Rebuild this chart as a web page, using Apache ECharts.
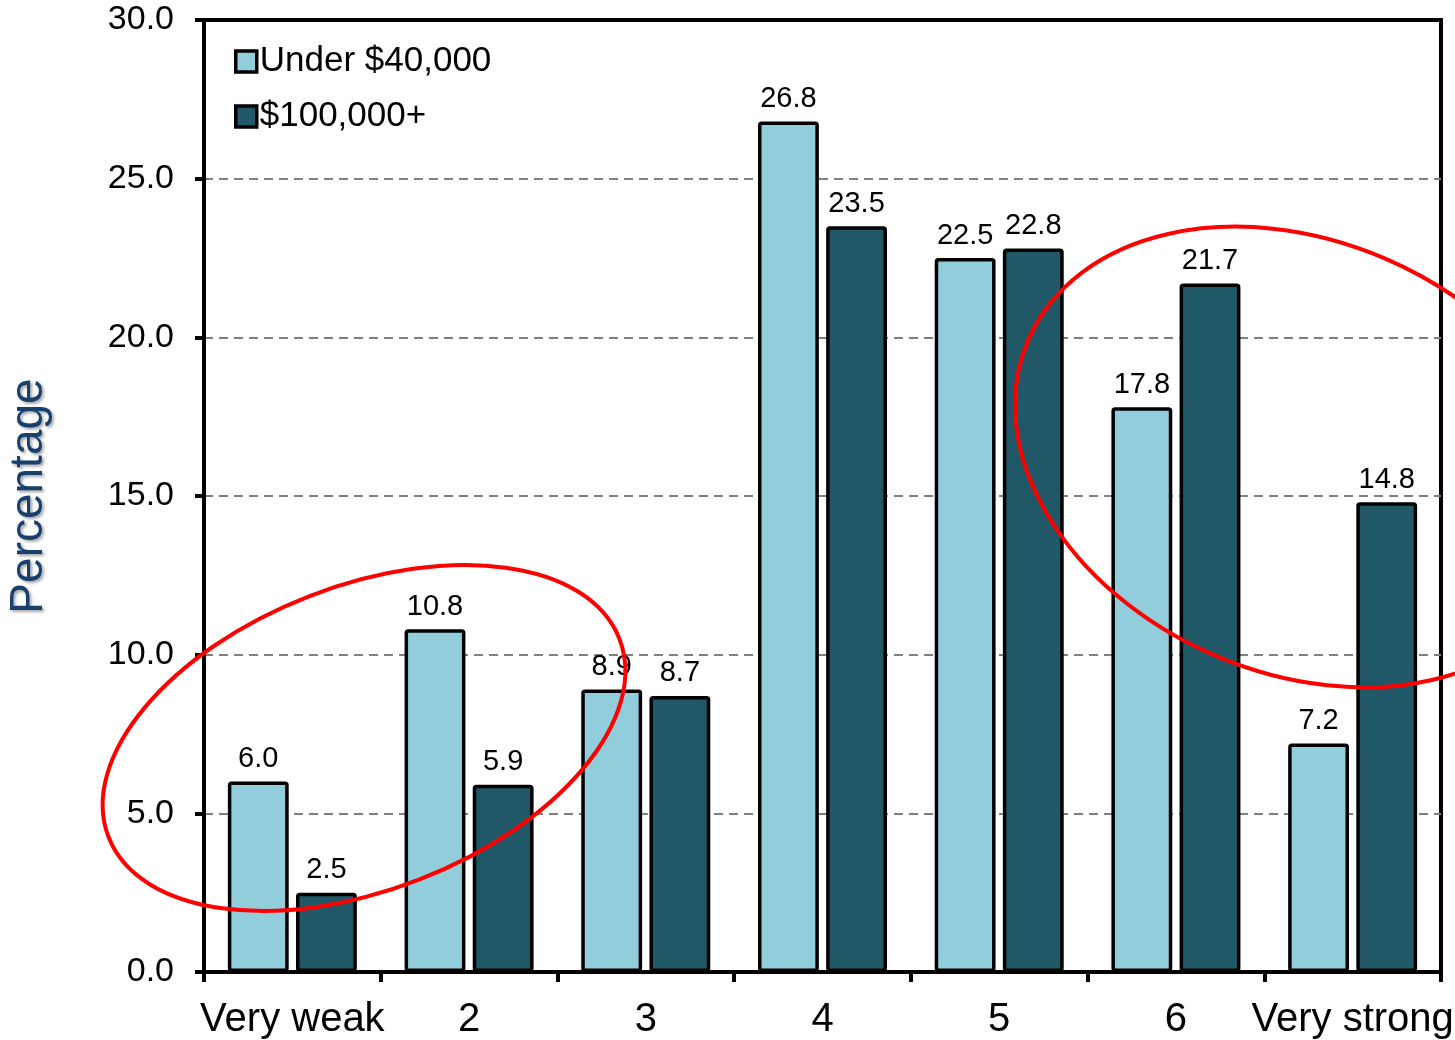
<!DOCTYPE html>
<html>
<head>
<meta charset="utf-8">
<title>Percentage by income</title>
<script src="https://cdn.jsdelivr.net/npm/echarts@6/dist/echarts.min.js"></script>
<style>
  html, body { margin: 0; padding: 0; background: #fff; }
  #chart { width: 1455px; height: 1040px; }
</style>
</head>
<body>
<div id="chart"></div>
<script>
var categories = ['Very weak', '2', '3', '4', '5', '6', 'Very strong']
var seriesNames = ['Under $40,000', '$100,000+']
var under40k = [6.0, 10.8, 8.9, 26.8, 22.5, 17.8, 7.2]
var over100k = [2.5, 5.9, 8.7, 23.5, 22.8, 21.7, 14.8]
var yTicks = [0, 5, 10, 15, 20, 25, 30]

var colors = ['#92cddc', '#215868']
var font = 'Arial, "Liberation Sans", sans-serif'

var chart = echarts.init(document.getElementById('chart'))

function barSeries(name, data, color) {
  return {
    name: name,
    type: 'bar',
    data: data,
    barGap: '12%',
    barCategoryGap: '27%',
    itemStyle: {
      color: color,
      borderColor: '#000',
      borderWidth: 3.5,
      borderRadius: 2
    },
    label: {
      show: true,
      position: 'top',
      distance: 8,
      color: '#000',
      fontFamily: font,
      fontSize: 29,
      formatter: function (p) { return p.value.toFixed(1) }
    }
  }
}

var option = {
  animation: false,
  color: colors,
  grid: {
    left: 204,
    right: 14,
    top: 20,
    bottom: 68,
    show: true,
    borderColor: '#000',
    borderWidth: 4,
    containLabel: false,
    outerBoundsMode: 'none'
  },
  legend: {
    data: seriesNames,
    orient: 'vertical',
    left: 229,
    top: 39,
    itemWidth: 21,
    itemHeight: 21,
    itemGap: 20,
    icon: 'rect',
    itemStyle: { borderColor: '#000', borderWidth: 3.5 },
    textStyle: {
      fontFamily: font,
      fontSize: 35,
      color: '#000',
      padding: [0, 0, 0, -2]
    }
  },
  xAxis: {
    type: 'category',
    data: categories,
    axisLine: { lineStyle: { color: '#000', width: 4 } },
    axisTick: { show: true, length: 10, lineStyle: { color: '#000', width: 4 } },
    axisLabel: {
      color: '#000',
      fontFamily: font,
      fontSize: 40,
      margin: 28,
      interval: 0
    }
  },
  yAxis: {
    type: 'value',
    min: yTicks[0],
    max: yTicks[yTicks.length - 1],
    interval: 5,
    name: 'Percentage',
    nameLocation: 'middle',
    nameGap: 152,
    nameTextStyle: {
      fontFamily: font,
      fontSize: 46,
      color: '#17406d',
      textShadowColor: 'rgba(0,0,0,0.35)',
      textShadowBlur: 3,
      textShadowOffsetX: 2,
      textShadowOffsetY: 2
    },
    axisLine: { show: true, lineStyle: { color: '#000', width: 4 } },
    axisTick: { show: true, length: 9, lineStyle: { color: '#000', width: 4 } },
    axisLabel: {
      color: '#000',
      fontFamily: font,
      fontSize: 34,
      margin: 30,
      formatter: function (v) { return v.toFixed(1) }
    },
    splitLine: {
      show: true,
      showMinLine: false,
      showMaxLine: false,
      lineStyle: { color: '#808080', width: 2, type: [9, 6] }
    }
  },
  graphic: [
    {
      // circled annotations
      type: 'ellipse',
      x: 364,
      y: 738,
      rotation: 0.37,
      z: 100,
      shape: { cx: 0, cy: 0, rx: 274, ry: 152 },
      style: { fill: 'none', stroke: '#ff0000', lineWidth: 4 }
    },
    {
      type: 'ellipse',
      x: 1300,
      y: 457,
      rotation: -0.406,
      z: 100,
      shape: { cx: 0, cy: 0, rx: 296, ry: 216 },
      style: { fill: 'none', stroke: '#ff0000', lineWidth: 4 }
    }
  ],
  series: [
    barSeries(seriesNames[0], under40k, colors[0]),
    barSeries(seriesNames[1], over100k, colors[1])
  ]
}

chart.setOption(option)
</script>
</body>
</html>
